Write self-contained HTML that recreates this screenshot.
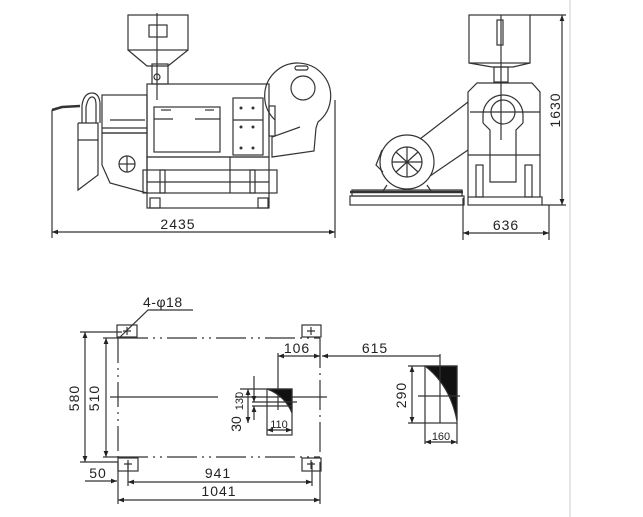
<!DOCTYPE html>
<html><head><meta charset="utf-8"><style>
html,body{margin:0;padding:0;background:#fff;}
svg{display:block;}
text{font-family:"Liberation Sans",sans-serif;fill:#222;}
</style></head><body>
<svg width="643" height="517" viewBox="0 0 643 517" xmlns="http://www.w3.org/2000/svg">
<defs>
<marker id="a" viewBox="0 0 10 10" refX="10" refY="5" markerWidth="7" markerHeight="5" orient="auto-start-reverse"><path d="M0,1 L10,5 L0,9 z" fill="#222"/></marker>
</defs>
<line x1="570" y1="0" x2="570" y2="517" stroke="#e6e6e6" stroke-width="2"/>
<g stroke="#333" stroke-width="1.2" fill="none">
<!-- SIDE VIEW -->
<rect x="128" y="15" width="60" height="35"/>
<rect x="149" y="25" width="18" height="12"/>
<polyline points="128,50 147,66 168,66 188,50"/>
<rect x="152" y="64" width="16" height="20"/>
<circle cx="157" cy="77" r="3"/>
<line x1="157" y1="13" x2="157" y2="100"/>
<rect x="147" y="84" width="122" height="73"/>
<rect x="154" y="107" width="66" height="45"/>
<line x1="154" y1="119" x2="173" y2="119"/><line x1="195" y1="119" x2="220" y2="119"/>
<line x1="161" y1="110" x2="171" y2="110"/><line x1="205" y1="110" x2="214" y2="110"/>
<rect x="233" y="98" width="30" height="57"/>
<line x1="233" y1="120" x2="263" y2="120"/>
<g fill="#333" stroke="none"><circle cx="241" cy="108" r="1.5"/><circle cx="253" cy="108" r="1.5"/><circle cx="241" cy="127" r="1.5"/><circle cx="253" cy="127" r="1.5"/><circle cx="241" cy="148" r="1.5"/><circle cx="253" cy="148" r="1.5"/></g>
<path d="M275,120 A33,33 0 1 1 318,122 L316,128 L314,151 L272,157 L272,137 L300,127"/>
<circle cx="303" cy="88" r="12"/>
<rect x="295" y="66" width="13" height="4" rx="2"/>
<rect x="269" y="106" width="6" height="30"/>
<rect x="147" y="157" width="122" height="51"/>
<rect x="143" y="170" width="134" height="23"/>
<line x1="147" y1="182" x2="269" y2="182"/>
<rect x="160" y="170" width="5" height="23"/><rect x="250" y="170" width="5" height="23"/>
<line x1="230" y1="157" x2="230" y2="193"/>
<rect x="150" y="198" width="10" height="10"/><rect x="258" y="198" width="10" height="10"/>
<rect x="102" y="95" width="45" height="38"/>
<line x1="110" y1="120" x2="145" y2="120"/><line x1="102" y1="128" x2="147" y2="128"/>
<polyline points="102,133 102,165 110,183 147,193"/>
<polyline points="102,133 147,133 147,193"/>
<circle cx="127" cy="164" r="8"/><line x1="119" y1="164" x2="135" y2="164"/><line x1="127" y1="156" x2="127" y2="172"/>
<polyline points="78,123 98,123 98,175 78,190 78,123"/>
<line x1="78" y1="140" x2="98" y2="140"/>
<path d="M82,123 L82,105 Q84,93 92,93 Q99,93 100,103 L100,123"/>
<path d="M86,123 L86,107 Q88,97 92,97 Q96,97 96,105 L96,123"/>
<path d="M52,110 L62,107 L80,106" stroke-width="2.5"/>
<line x1="52" y1="110" x2="52" y2="238"/>
<line x1="335" y1="100" x2="335" y2="238"/>
<line x1="52" y1="232" x2="335" y2="232" marker-start="url(#a)" marker-end="url(#a)"/>
<!-- FRONT VIEW -->
<rect x="469" y="15" width="61" height="48"/>
<rect x="497" y="20" width="6" height="25"/>
<polyline points="469,63 492,67 513,67 530,63"/>
<rect x="494" y="67" width="14" height="15"/>
<line x1="501" y1="15" x2="501" y2="140"/>
<polyline points="468,197 468,92 477,83 532,83 540,92 540,197"/>
<path d="M483,123 L483,115 A20,20 0 0 1 523,115 L523,123"/>
<path d="M483,123 L490,130 L490,182 L516,182 L516,130 L523,123"/>
<circle cx="503" cy="112" r="12"/>
<line x1="470" y1="112" x2="540" y2="112"/>
<line x1="468" y1="155" x2="540" y2="155"/>
<rect x="476" y="165" width="7" height="32"/><rect x="525" y="165" width="7" height="32"/>
<rect x="468" y="197" width="74" height="8"/>
<circle cx="407" cy="162" r="27"/>
<circle cx="407" cy="162" r="15"/>
<path d="M396,152 L418,172 M396,172 L418,152 M392,162 L422,162 M407,147 L407,177"/>
<path d="M382,150 L376,165 L383,172"/>
<line x1="420" y1="139" x2="468" y2="102"/>
<line x1="430" y1="176" x2="468" y2="150"/>
<path d="M387,185 L383,191 M427,185 L431,191"/>
<rect x="352" y="190" width="110" height="6"/>
<rect x="350" y="196" width="114" height="9"/>
<line x1="350" y1="192" x2="463" y2="192" stroke-width="2.5"/>
<line x1="530" y1="15" x2="566" y2="15"/>
<line x1="542" y1="205" x2="566" y2="205"/>
<line x1="562" y1="15" x2="562" y2="205" marker-start="url(#a)" marker-end="url(#a)"/>
<line x1="463" y1="198" x2="463" y2="240"/>
<line x1="549" y1="205" x2="549" y2="240"/>
<line x1="463" y1="233" x2="549" y2="233" marker-start="url(#a)" marker-end="url(#a)"/>
<!-- PLAN -->
<line x1="118" y1="338" x2="320" y2="338" stroke-dasharray="30,5,2,5,2,5"/>
<line x1="118" y1="457" x2="320" y2="457" stroke-dasharray="30,5,2,5,2,5"/>
<line x1="118" y1="338" x2="118" y2="457" stroke-dasharray="25,5,2,5,2,5"/>
<line x1="320" y1="338" x2="320" y2="457" stroke-dasharray="30,5,2,5"/>
<rect x="117" y="325" width="20" height="12"/><rect x="302" y="325" width="19" height="12"/>
<rect x="118" y="458" width="20" height="13"/><rect x="302" y="458" width="19" height="13"/>
<path d="M127,327v8M123,331h8M311,327v8M307,331h8M128,460v9M124,464h8M311,460v9M307,464h8"/>
<polyline points="193,310 148,310 120,337"/>
<line x1="80" y1="332" x2="122" y2="332"/>
<line x1="80" y1="462" x2="118" y2="462"/>
<line x1="85" y1="332" x2="85" y2="462" marker-start="url(#a)" marker-end="url(#a)"/>
<line x1="103" y1="338" x2="118" y2="338"/>
<line x1="103" y1="457" x2="118" y2="457"/>
<line x1="106" y1="338" x2="106" y2="457" marker-start="url(#a)" marker-end="url(#a)"/>
<line x1="110" y1="397" x2="218" y2="397"/>
<line x1="235" y1="397" x2="327" y2="397"/>
<line x1="278" y1="353" x2="278" y2="410"/>
<line x1="278" y1="356" x2="320" y2="356" marker-start="url(#a)" marker-end="url(#a)"/>
<line x1="322" y1="356" x2="440" y2="356" marker-start="url(#a)"/>
<line x1="440" y1="354" x2="440" y2="366"/>
<rect x="267" y="389" width="25" height="46"/>
<path d="M267,389 L292,389 L292,413 Q285,396 267,389 z" fill="#111"/>
<line x1="240" y1="389" x2="267" y2="389"/>
<line x1="252" y1="402" x2="297" y2="402"/>
<line x1="252" y1="406" x2="292" y2="406"/>
<line x1="248" y1="389" x2="248" y2="423" marker-start="url(#a)" marker-end="url(#a)"/>
<line x1="254" y1="376" x2="254" y2="402" marker-end="url(#a)"/>
<line x1="254" y1="420" x2="254" y2="406" marker-end="url(#a)"/>
<line x1="267" y1="430" x2="292" y2="430" marker-start="url(#a)" marker-end="url(#a)"/>
<rect x="425" y="366" width="32" height="57"/>
<path d="M425,366 L457,366 L457,421 Q450,385 425,366 z" fill="#111"/>
<line x1="418" y1="396" x2="460" y2="396"/>
<line x1="440" y1="366" x2="440" y2="423"/>
<line x1="408" y1="366" x2="425" y2="366"/>
<line x1="408" y1="423" x2="425" y2="423"/>
<line x1="412" y1="366" x2="412" y2="423" marker-start="url(#a)" marker-end="url(#a)"/>
<line x1="425" y1="423" x2="425" y2="444"/><line x1="457" y1="423" x2="457" y2="444"/>
<line x1="425" y1="442" x2="457" y2="442" marker-start="url(#a)" marker-end="url(#a)"/>
<line x1="118" y1="462" x2="118" y2="504"/>
<line x1="320" y1="462" x2="320" y2="504"/>
<line x1="128" y1="462" x2="128" y2="486"/>
<line x1="312" y1="462" x2="312" y2="486"/>
<line x1="85" y1="481" x2="117" y2="481" marker-end="url(#a)"/>
<line x1="128" y1="482" x2="312" y2="482" marker-start="url(#a)" marker-end="url(#a)"/>
<line x1="118" y1="500" x2="320" y2="500" marker-start="url(#a)" marker-end="url(#a)"/>
</g>
<g font-size="14">
<text x="178" y="229" text-anchor="middle" letter-spacing="1">2435</text>
<text x="506" y="230" text-anchor="middle" letter-spacing="1">636</text>
<text x="560" y="110" text-anchor="middle" letter-spacing="1" transform="rotate(-90 560 110)">1630</text>
<text x="143" y="307" letter-spacing="0.5">4-φ18</text>
<text x="79" y="398" text-anchor="middle" letter-spacing="1" transform="rotate(-90 79 398)">580</text>
<text x="99" y="398" text-anchor="middle" letter-spacing="1" transform="rotate(-90 99 398)">510</text>
<text x="297" y="353" text-anchor="middle" letter-spacing="1">106</text>
<text x="375" y="353" text-anchor="middle" letter-spacing="1">615</text>
<text x="406" y="395" text-anchor="middle" letter-spacing="1" transform="rotate(-90 406 395)">290</text>
<text x="241" y="424" text-anchor="middle" transform="rotate(-90 241 424)">30</text>
<text x="98" y="478" text-anchor="middle" letter-spacing="1">50</text>
<text x="218" y="478" text-anchor="middle" letter-spacing="1">941</text>
<text x="219" y="496" text-anchor="middle" letter-spacing="1">1041</text>
</g>
<g font-size="11">
<text x="279" y="428" text-anchor="middle">110</text>
<text x="441" y="440" text-anchor="middle">160</text>
<text x="243" y="401" text-anchor="middle" transform="rotate(-90 243 401)">130</text>
</g>
</svg>
</body></html>
